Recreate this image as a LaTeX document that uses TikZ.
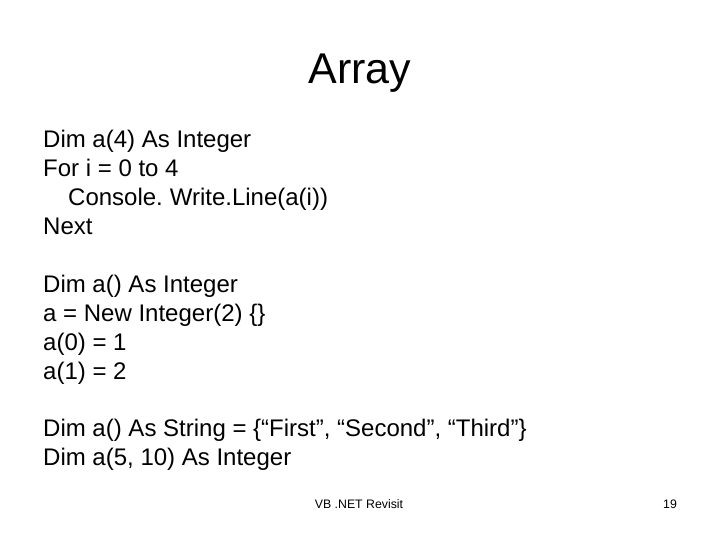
\documentclass[tikz,border=0pt]{standalone}
\usepackage{fontspec}
\setmainfont{Liberation Sans}
\begin{document}
\begin{tikzpicture}[x=1pt,y=-1pt,
  body/.style={anchor=base west,inner sep=0pt,font=\fontsize{24}{28}\selectfont},
  foot/.style={anchor=base,inner sep=0pt,font=\fontsize{12.3}{14}\selectfont}]
\useasboundingbox[fill=white] (0,0) rectangle (720,540);
\node[anchor=base,inner sep=0pt,font=\fontsize{43}{50}\selectfont] (title) at (360,84) {Array};
\node[body] (l1) at (43,148) {Dim a(4) As Integer};
\node[body] (l2) at (43,177) {For i = 0 to 4};
\node[body] (l3) at (68,206) {Console.\hspace{-2pt} Write.Line(a(i))};
\node[body] (l4) at (43,235) {Next};
\node[body] (l5) at (43,292) {Dim a() As Integer};
\node[body] (l6) at (43,321) {a = New Integer(2) \{\}};
\node[body] (l7) at (43,350) {a(0) = 1};
\node[body] (l8) at (43,379) {a(1) = 2};
\node[body] (l9) at (43,436) {Dim a() As String = \{“First”, “Second”, “Third”\}};
\node[body] (l10) at (43,465) {Dim a(5, 10) As Integer};
\node[foot] (f1) at (359,508) {VB .NET Revisit};
\node[foot] (f2) at (670,508) {19};
\end{tikzpicture}
\end{document}
